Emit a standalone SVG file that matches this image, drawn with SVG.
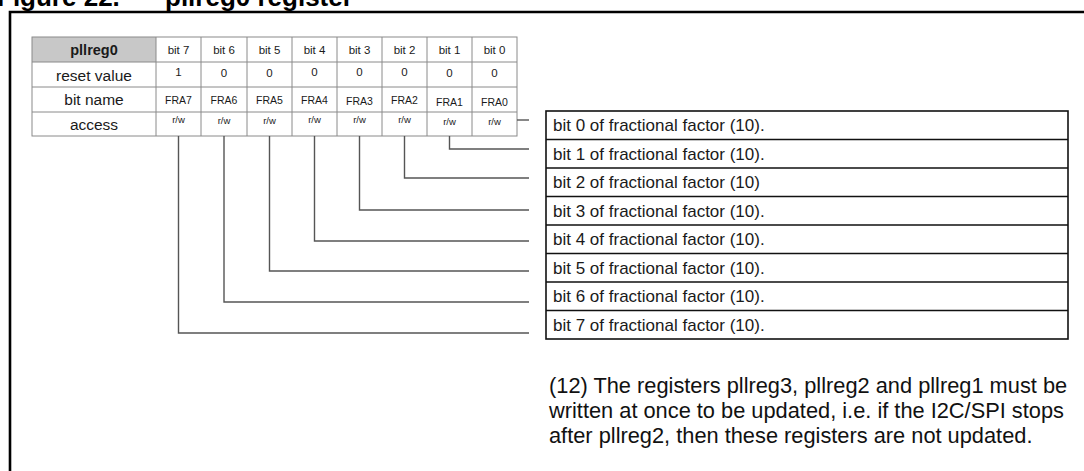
<svg xmlns="http://www.w3.org/2000/svg" width="1084" height="471" viewBox="0 0 1084 471">
<style>
text{font-family:"Liberation Sans",Arial,sans-serif;fill:#1a1a1a}
.title{font-size:26px;font-weight:bold;fill:#000}
.grid{stroke:#8a8a8a;stroke-width:1;fill:none}
.hd{font-size:14.5px;font-weight:bold;text-anchor:middle}
.rl{font-size:15.5px;text-anchor:middle}
.bc{font-size:11.5px;text-anchor:middle}
.nm{font-size:10.5px;text-anchor:middle}
.rw{font-size:9.5px;text-anchor:middle}
.box{stroke:#111;stroke-width:1.6;fill:none}
.dt{font-size:17px}
.note{font-size:21.8px;fill:#111}
.conn{stroke:#555;stroke-width:1.4;fill:none}
</style>
<rect width="1084" height="471" fill="#fff"/>
<text class="title" x="-3" y="6">Figure 22.</text>
<text class="title" x="165" y="6">pllreg0 register</text>
<path d="M10,471 V12 H1084" stroke="#000" stroke-width="2.6" fill="none"/>
<g id="register-table">
<rect x="32" y="37" width="124" height="25" fill="#c8c8c8"/>
<rect class="grid" x="32" y="37" width="485" height="99"/>
<path class="grid" d="M32,62 H517 M32,87 H517 M32,112 H517 M156,37 V136 M201,37 V136 M247,37 V136 M292,37 V136 M337,37 V136 M382,37 V136 M427,37 V136 M472,37 V136"/>
<text class="hd" x="94" y="55">pllreg0</text>
<text class="rl" x="94" y="81">reset value</text>
<text class="rl" x="94" y="105">bit name</text>
<text class="rl" x="94" y="130">access</text>
<g class="bc">
<text x="178.5" y="54">bit 7</text><text x="224" y="54">bit 6</text><text x="269.5" y="54">bit 5</text><text x="314.5" y="54">bit 4</text><text x="359.5" y="54">bit 3</text><text x="404.5" y="54">bit 2</text><text x="449.5" y="54">bit 1</text><text x="494.5" y="54">bit 0</text>
<text x="178.5" y="76">1</text><text x="224" y="77">0</text><text x="269.5" y="77">0</text><text x="314.5" y="76">0</text><text x="359.5" y="76">0</text><text x="404.5" y="76">0</text><text x="449.5" y="77">0</text><text x="494.5" y="77">0</text>
</g>
<g class="nm">
<text x="178.5" y="104">FRA7</text><text x="224" y="104">FRA6</text><text x="269.5" y="104">FRA5</text><text x="314.5" y="104">FRA4</text><text x="359.5" y="105">FRA3</text><text x="404.5" y="104">FRA2</text><text x="449.5" y="106">FRA1</text><text x="494.5" y="106">FRA0</text>
</g>
<g class="rw">
<text x="178.5" y="123">r/w</text><text x="224" y="124">r/w</text><text x="269.5" y="124">r/w</text><text x="314.5" y="123">r/w</text><text x="359.5" y="123">r/w</text><text x="404.5" y="123">r/w</text><text x="449.5" y="125">r/w</text><text x="494.5" y="125">r/w</text>
</g>
</g>
<g id="bit-descriptions">
<rect class="box" x="546" y="111" width="522" height="228"/>
<path class="box" d="M546,139.5 H1068 M546,168 H1068 M546,196.5 H1068 M546,225 H1068 M546,253.5 H1068 M546,282 H1068 M546,310.5 H1068"/>
<text class="dt" x="553" y="131">bit 0 of fractional factor (10).</text>
<text class="dt" x="553" y="159.5">bit 1 of fractional factor (10).</text>
<text class="dt" x="553" y="188">bit 2 of fractional factor (10)</text>
<text class="dt" x="553" y="216.5">bit 3 of fractional factor (10).</text>
<text class="dt" x="553" y="245">bit 4 of fractional factor (10).</text>
<text class="dt" x="553" y="273.5">bit 5 of fractional factor (10).</text>
<text class="dt" x="553" y="302">bit 6 of fractional factor (10).</text>
<text class="dt" x="553" y="330.5">bit 7 of fractional factor (10).</text>
</g>
<g id="connectors">
<path class="conn" d="M517,120 H529"/>
<path class="conn" d="M449.5,136 V149 H529"/>
<path class="conn" d="M404.5,136 V178 H529"/>
<path class="conn" d="M359.5,136 V210 H529"/>
<path class="conn" d="M314.5,136 V241 H529"/>
<path class="conn" d="M269.5,136 V271 H529"/>
<path class="conn" d="M224,136 V302 H529"/>
<path class="conn" d="M178.5,136 V333 H529"/>
</g>
<g id="note">
<text class="note" x="549" y="393">(12) The registers pllreg3, pllreg2 and pllreg1 must be</text>
<text class="note" x="549" y="418">written at once to be updated, i.e. if the I2C/SPI stops</text>
<text class="note" x="549" y="443">after pllreg2, then these registers are not updated.</text>
</g>
</svg>
